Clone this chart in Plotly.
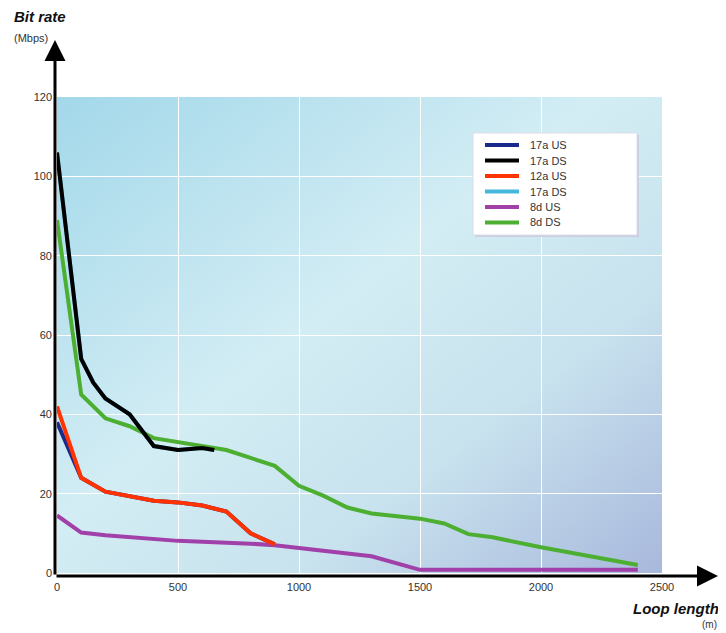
import base64
import plotly.graph_objects as go

# ---- data (loop length in m, bit rate in Mbps) ----
x_17a_us = [0, 100, 200, 400, 500, 600, 700, 800, 900]
y_17a_us = [38, 24, 20.5, 18.2, 17.8, 17, 15.5, 10, 7.2]

x_17a_ds = [0, 100, 150, 200, 300, 400, 500, 600, 650]
y_17a_ds = [106, 54, 48, 44, 40, 32, 31, 31.5, 31]

x_12a_us = [0, 100, 200, 400, 500, 600, 700, 800, 900]
y_12a_us = [42, 24, 20.5, 18.2, 17.8, 17, 15.5, 10, 7.2]

x_17a_ds2 = [0, 100, 150, 200, 300, 400, 500, 600, 650]
y_17a_ds2 = [106, 54, 48, 44, 40, 32, 31, 31.5, 31]

x_8d_us = [0, 100, 200, 500, 800, 900, 1000, 1100, 1200, 1300, 1400, 1500, 2400]
y_8d_us = [14.5, 10.2, 9.5, 8.1, 7.4, 7, 6.3, 5.5, 4.9, 4.2, 2.5, 0.8, 0.8]

x_8d_ds = [0, 100, 200, 300, 400, 500, 600, 700, 800, 900, 1000, 1100, 1200,
           1300, 1500, 1600, 1700, 1800, 2000, 2200, 2400]
y_8d_ds = [89, 45, 39, 37, 34, 33, 32, 31, 29, 27, 22, 19.5, 16.5,
           15, 13.7, 12.5, 9.8, 9, 6.5, 4.2, 2]

legend_labels = ["17a US", "17a DS", "12a US", "17a DS", "8d US", "8d DS"]
x_ticks = [0, 500, 1000, 1500, 2000, 2500]
y_ticks = [0, 20, 40, 60, 80, 100, 120]

colors = ["#1a2a8c", "#000000", "#ff3300", "#45b8dc", "#a040a8", "#4caf32"]

# ---- background gradient as an svg image ----
svg = ('<svg xmlns="http://www.w3.org/2000/svg" width="600" height="480" '
       'preserveAspectRatio="none">'
       '<defs><linearGradient id="g" x1="0" y1="0" x2="1" y2="1">'
       '<stop offset="0" stop-color="#a3d8ea"/>'
       '<stop offset="0.45" stop-color="#d3edf4"/>'
       '<stop offset="0.7" stop-color="#c8e2ee"/>'
       '<stop offset="1" stop-color="#a8b8dc"/>'
       '</linearGradient></defs>'
       '<rect width="600" height="480" fill="url(#g)"/></svg>')
bg_src = "data:image/svg+xml;base64," + base64.b64encode(svg.encode()).decode()

fig = go.Figure()

series = [
    (x_17a_us, y_17a_us),
    (x_17a_ds, y_17a_ds),
    (x_12a_us, y_12a_us),
    (x_17a_ds2, y_17a_ds2),
    (x_8d_us, y_8d_us),
    (x_8d_ds, y_8d_ds),
]
# draw order: hidden traces first so visible ones lie on top
order = [3, 0, 4, 2, 5, 1]
for i in order:
    xs, ys = series[i]
    fig.add_trace(go.Scatter(
        x=xs, y=ys, mode="lines", name=legend_labels[i],
        line=dict(color=colors[i], width=4),
        showlegend=False, hoverinfo="skip"))

# page body has an 8px margin, so the figure is 8px smaller and shifted
fig.update_layout(
    width=718, height=625,
    margin=dict(l=49, r=64, t=89, b=60),
    paper_bgcolor="white",
    plot_bgcolor="rgba(0,0,0,0)",
    font=dict(family="Liberation Sans, Arial, sans-serif", size=11, color="#333333"),
    showlegend=False,
    images=[dict(source=bg_src, xref="paper", yref="paper", x=0, y=1,
                 sizex=1, sizey=1, sizing="stretch", layer="below")],
)

fig.update_xaxes(
    range=[0, 2500], tickvals=x_ticks, ticktext=[str(v) for v in x_ticks],
    showgrid=True, gridcolor="white", gridwidth=1, zeroline=False,
    showline=False, ticks="", ticklabelstandoff=6,
)
fig.update_yaxes(
    range=[0, 120], tickvals=y_ticks, ticktext=[str(v) for v in y_ticks],
    showgrid=True, gridcolor="white", gridwidth=1, zeroline=False,
    showline=False, ticks="", ticklabelstandoff=4,
)

# ---- manual legend box ----
def px(xr):
    return (xr - 57) / 605.0

def py(yr):
    return (573 - yr) / 476.0

fig.add_shape(type="rect", xref="paper", yref="paper",
              x0=px(475), x1=px(639), y0=py(237), y1=py(135),
              fillcolor="#c9cfe0", line=dict(width=0))
fig.add_shape(type="rect", xref="paper", yref="paper",
              x0=px(473), x1=px(637), y0=py(235), y1=py(133),
              fillcolor="white", line=dict(color="#dcdce6", width=1))
item_y = [145, 160.5, 176, 191.5, 207, 222.5]
for k in range(6):
    fig.add_shape(type="line", xref="paper", yref="paper",
                  x0=px(485), x1=px(519), y0=py(item_y[k]), y1=py(item_y[k]),
                  line=dict(color=colors[k], width=4))
    fig.add_annotation(xref="paper", yref="paper", x=px(528), y=py(item_y[k]),
                       xanchor="left", yanchor="middle", showarrow=False,
                       text=legend_labels[k], font=dict(size=11, color="#333"))

# axis arrows (pixel offsets for the tails)
fig.add_annotation(xref="paper", yref="paper", x=px(55), y=py(40),
                   ax=0, ay=536, axref="pixel", ayref="pixel",
                   showarrow=True, arrowhead=2, arrowsize=1.4, arrowwidth=3,
                   arrowcolor="black", text="")
fig.add_annotation(xref="paper", yref="paper", x=px(718), y=py(576),
                   ax=-663, ay=0, axref="pixel", ayref="pixel",
                   showarrow=True, arrowhead=2, arrowsize=1.4, arrowwidth=3,
                   arrowcolor="black", text="")

# axis titles
fig.add_annotation(xref="paper", yref="paper", x=px(12), y=py(27),
                   xanchor="left", yanchor="bottom", showarrow=False,
                   text="<b><i>Bit rate</i></b>", font=dict(size=15, color="#111"))
fig.add_annotation(xref="paper", yref="paper", x=px(12), y=py(30),
                   xanchor="left", yanchor="top", showarrow=False,
                   text="(Mbps)", font=dict(size=11, color="#333"))
fig.add_annotation(xref="paper", yref="paper", x=px(721), y=py(598),
                   xanchor="right", yanchor="top", showarrow=False,
                   text="<b><i>Loop length</i></b>", font=dict(size=15, color="#111"))
fig.add_annotation(xref="paper", yref="paper", x=px(719), y=py(617),
                   xanchor="right", yanchor="top", showarrow=False,
                   text="(m)", font=dict(size=10, color="#333"))

fig.write_html("out.html")
